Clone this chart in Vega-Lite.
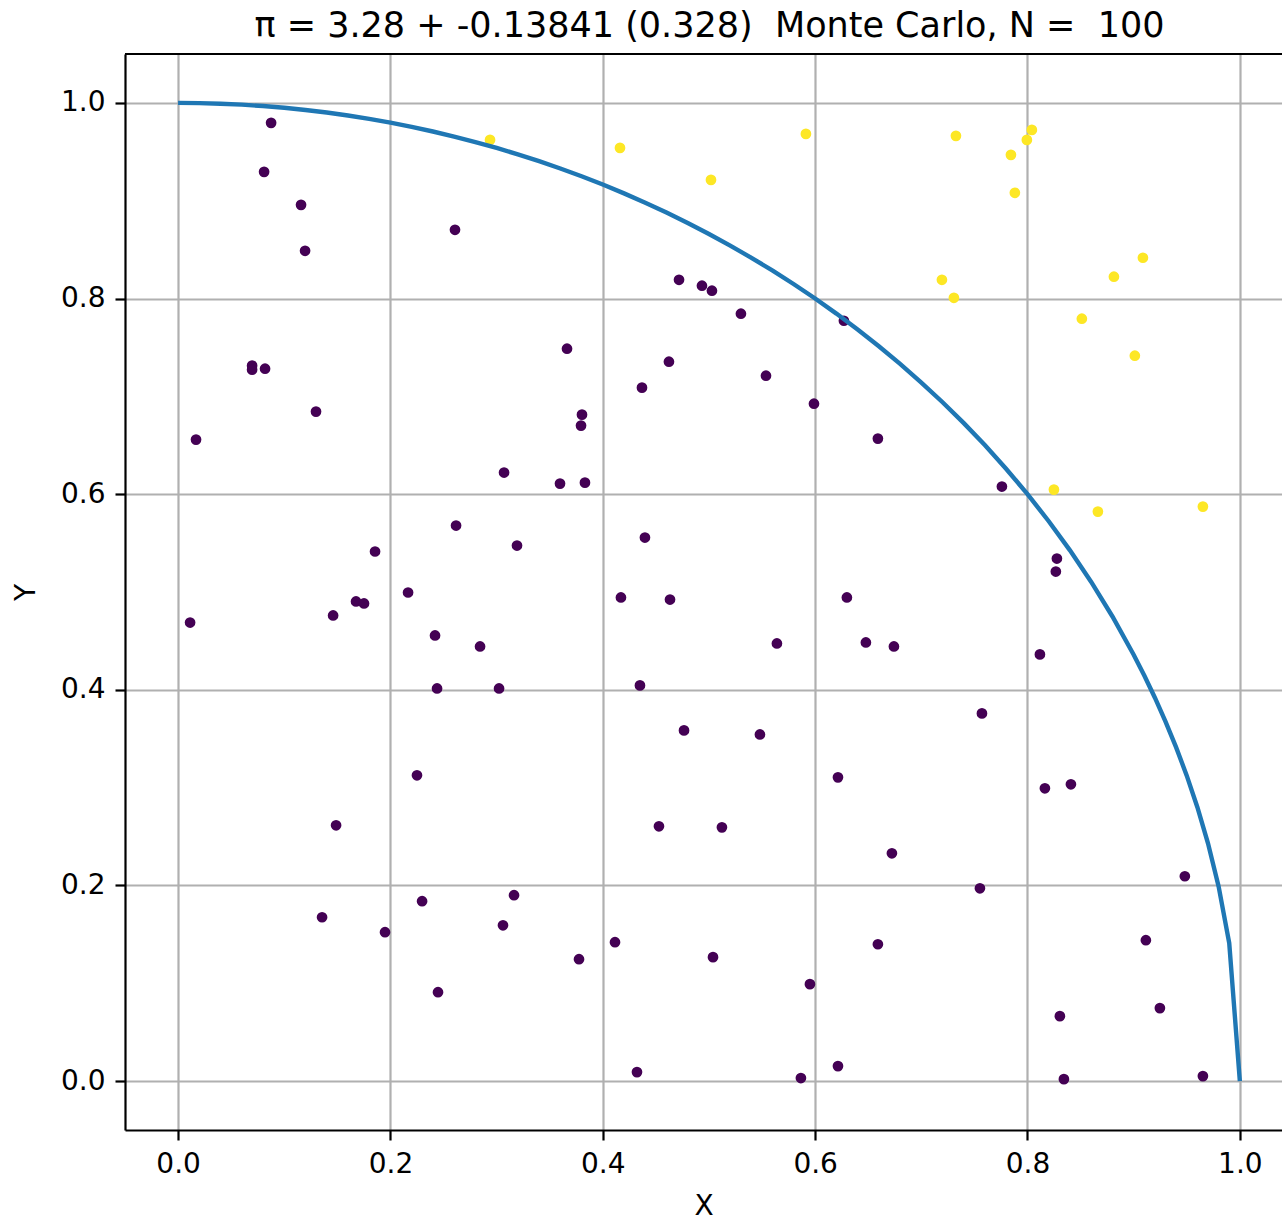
{
  "$schema": "https://vega.github.io/schema/vega-lite/v6.json",
  "autosize": {"type": "none"},
  "padding": {"left": 125, "top": 54, "right": 0, "bottom": 92},
  "width": 1157,
  "height": 1076,
  "background": "white",
  "config": {
    "view": {"stroke": null},
    "font": "DejaVu Sans",
    "axis": {
      "labelFont": "DejaVu Sans", "titleFont": "DejaVu Sans",
      "labelFontSize": 28, "titleFontSize": 28, "titleFontWeight": "normal",
      "labelColor": "black", "titleColor": "black",
      "domainColor": "black", "domainWidth": 2.2,
      "tickColor": "black", "tickWidth": 2.2, "tickSize": 10,
      "gridColor": "#b0b0b0", "gridWidth": 2.2,
      "labelPadding": 10
    }
  },
  "title": {
    "text": "π = 3.28 + -0.13841 (0.328)\u00a0\u00a0Monte Carlo, N =\u00a0\u00a0100",
    "font": "DejaVu Sans", "fontSize": 35, "fontWeight": "normal", "color": "black",
    "anchor": "middle", "frame": "group", "dx": 6, "offset": 9
  },
  "datasets": {
    "pts": [
      {"x": 0.2938, "y": 0.9622, "inside": "out"},
      {"x": 0.4162, "y": 0.954, "inside": "out"},
      {"x": 0.5019, "y": 0.9213, "inside": "out"},
      {"x": 0.5913, "y": 0.9683, "inside": "out"},
      {"x": 0.7326, "y": 0.9663, "inside": "out"},
      {"x": 0.7844, "y": 0.9469, "inside": "out"},
      {"x": 0.7994, "y": 0.9622, "inside": "out"},
      {"x": 0.8041, "y": 0.9724, "inside": "out"},
      {"x": 0.7881, "y": 0.9081, "inside": "out"},
      {"x": 0.7194, "y": 0.8192, "inside": "out"},
      {"x": 0.7307, "y": 0.8008, "inside": "out"},
      {"x": 0.8814, "y": 0.8223, "inside": "out"},
      {"x": 0.9087, "y": 0.8417, "inside": "out"},
      {"x": 0.8512, "y": 0.7794, "inside": "out"},
      {"x": 0.9011, "y": 0.7416, "inside": "out"},
      {"x": 0.8249, "y": 0.6047, "inside": "out"},
      {"x": 0.8663, "y": 0.5822, "inside": "out"},
      {"x": 0.9652, "y": 0.5873, "inside": "out"},
      {"x": 0.0876, "y": 0.9796, "inside": "in"},
      {"x": 0.081, "y": 0.9295, "inside": "in"},
      {"x": 0.1158, "y": 0.8958, "inside": "in"},
      {"x": 0.1196, "y": 0.8488, "inside": "in"},
      {"x": 0.2608, "y": 0.8703, "inside": "in"},
      {"x": 0.0697, "y": 0.7314, "inside": "in"},
      {"x": 0.0697, "y": 0.7273, "inside": "in"},
      {"x": 0.0819, "y": 0.7283, "inside": "in"},
      {"x": 0.1299, "y": 0.6844, "inside": "in"},
      {"x": 0.0169, "y": 0.6558, "inside": "in"},
      {"x": 0.0113, "y": 0.4688, "inside": "in"},
      {"x": 0.1855, "y": 0.5414, "inside": "in"},
      {"x": 0.146, "y": 0.476, "inside": "in"},
      {"x": 0.1676, "y": 0.4903, "inside": "in"},
      {"x": 0.1751, "y": 0.4883, "inside": "in"},
      {"x": 0.2166, "y": 0.4995, "inside": "in"},
      {"x": 0.242, "y": 0.4556, "inside": "in"},
      {"x": 0.2439, "y": 0.4014, "inside": "in"},
      {"x": 0.2618, "y": 0.5679, "inside": "in"},
      {"x": 0.2844, "y": 0.4443, "inside": "in"},
      {"x": 0.3023, "y": 0.4014, "inside": "in"},
      {"x": 0.307, "y": 0.6221, "inside": "in"},
      {"x": 0.3192, "y": 0.5475, "inside": "in"},
      {"x": 0.3597, "y": 0.6108, "inside": "in"},
      {"x": 0.3663, "y": 0.7487, "inside": "in"},
      {"x": 0.3804, "y": 0.6813, "inside": "in"},
      {"x": 0.3795, "y": 0.6701, "inside": "in"},
      {"x": 0.3832, "y": 0.6118, "inside": "in"},
      {"x": 0.4369, "y": 0.7089, "inside": "in"},
      {"x": 0.4397, "y": 0.5557, "inside": "in"},
      {"x": 0.4171, "y": 0.4944, "inside": "in"},
      {"x": 0.4623, "y": 0.7354, "inside": "in"},
      {"x": 0.4633, "y": 0.4923, "inside": "in"},
      {"x": 0.435, "y": 0.4045, "inside": "in"},
      {"x": 0.4765, "y": 0.3585, "inside": "in"},
      {"x": 0.4718, "y": 0.8192, "inside": "in"},
      {"x": 0.4934, "y": 0.8131, "inside": "in"},
      {"x": 0.5028, "y": 0.808, "inside": "in"},
      {"x": 0.5301, "y": 0.7845, "inside": "in"},
      {"x": 0.5537, "y": 0.7211, "inside": "in"},
      {"x": 0.5989, "y": 0.6925, "inside": "in"},
      {"x": 0.6271, "y": 0.7773, "inside": "in"},
      {"x": 0.6591, "y": 0.6568, "inside": "in"},
      {"x": 0.564, "y": 0.4474, "inside": "in"},
      {"x": 0.548, "y": 0.3544, "inside": "in"},
      {"x": 0.6299, "y": 0.4944, "inside": "in"},
      {"x": 0.6478, "y": 0.4484, "inside": "in"},
      {"x": 0.6742, "y": 0.4443, "inside": "in"},
      {"x": 0.7759, "y": 0.6078, "inside": "in"},
      {"x": 0.8277, "y": 0.5342, "inside": "in"},
      {"x": 0.8267, "y": 0.5209, "inside": "in"},
      {"x": 0.8117, "y": 0.4362, "inside": "in"},
      {"x": 0.7571, "y": 0.3759, "inside": "in"},
      {"x": 0.1488, "y": 0.2615, "inside": "in"},
      {"x": 0.1356, "y": 0.1675, "inside": "in"},
      {"x": 0.1949, "y": 0.1522, "inside": "in"},
      {"x": 0.225, "y": 0.3126, "inside": "in"},
      {"x": 0.2298, "y": 0.1839, "inside": "in"},
      {"x": 0.2448, "y": 0.0909, "inside": "in"},
      {"x": 0.3164, "y": 0.19, "inside": "in"},
      {"x": 0.306, "y": 0.1593, "inside": "in"},
      {"x": 0.3776, "y": 0.1246, "inside": "in"},
      {"x": 0.4115, "y": 0.142, "inside": "in"},
      {"x": 0.4322, "y": 0.0092, "inside": "in"},
      {"x": 0.4529, "y": 0.2605, "inside": "in"},
      {"x": 0.5122, "y": 0.2594, "inside": "in"},
      {"x": 0.5038, "y": 0.1267, "inside": "in"},
      {"x": 0.5951, "y": 0.0991, "inside": "in"},
      {"x": 0.6215, "y": 0.3105, "inside": "in"},
      {"x": 0.5866, "y": 0.0031, "inside": "in"},
      {"x": 0.6215, "y": 0.0153, "inside": "in"},
      {"x": 0.6591, "y": 0.1399, "inside": "in"},
      {"x": 0.6723, "y": 0.2329, "inside": "in"},
      {"x": 0.7552, "y": 0.1971, "inside": "in"},
      {"x": 0.8164, "y": 0.2993, "inside": "in"},
      {"x": 0.8409, "y": 0.3034, "inside": "in"},
      {"x": 0.8305, "y": 0.0664, "inside": "in"},
      {"x": 0.8343, "y": 0.002, "inside": "in"},
      {"x": 0.9482, "y": 0.2094, "inside": "in"},
      {"x": 0.9115, "y": 0.144, "inside": "in"},
      {"x": 0.9247, "y": 0.0746, "inside": "in"},
      {"x": 0.9652, "y": 0.0051, "inside": "in"}
    ],
    "arc": [
      {"x": 0, "y": 1},
      {"x": 0.02, "y": 0.9998},
      {"x": 0.04, "y": 0.9992},
      {"x": 0.06, "y": 0.9982},
      {"x": 0.08, "y": 0.99679},
      {"x": 0.1, "y": 0.99499},
      {"x": 0.12, "y": 0.99277},
      {"x": 0.14, "y": 0.99015},
      {"x": 0.16, "y": 0.98712},
      {"x": 0.18, "y": 0.98367},
      {"x": 0.2, "y": 0.9798},
      {"x": 0.22, "y": 0.9755},
      {"x": 0.24, "y": 0.97077},
      {"x": 0.26, "y": 0.96561},
      {"x": 0.28, "y": 0.96},
      {"x": 0.3, "y": 0.95394},
      {"x": 0.32, "y": 0.94742},
      {"x": 0.34, "y": 0.94043},
      {"x": 0.36, "y": 0.93295},
      {"x": 0.38, "y": 0.92499},
      {"x": 0.4, "y": 0.91652},
      {"x": 0.42, "y": 0.90752},
      {"x": 0.44, "y": 0.898},
      {"x": 0.46, "y": 0.88792},
      {"x": 0.48, "y": 0.87727},
      {"x": 0.5, "y": 0.86603},
      {"x": 0.52, "y": 0.85417},
      {"x": 0.54, "y": 0.84166},
      {"x": 0.56, "y": 0.82849},
      {"x": 0.58, "y": 0.81462},
      {"x": 0.6, "y": 0.8},
      {"x": 0.62, "y": 0.7846},
      {"x": 0.64, "y": 0.76837},
      {"x": 0.66, "y": 0.75127},
      {"x": 0.68, "y": 0.73321},
      {"x": 0.7, "y": 0.71414},
      {"x": 0.72, "y": 0.69397},
      {"x": 0.74, "y": 0.67261},
      {"x": 0.76, "y": 0.64992},
      {"x": 0.78, "y": 0.62578},
      {"x": 0.8, "y": 0.6},
      {"x": 0.82, "y": 0.57236},
      {"x": 0.84, "y": 0.54259},
      {"x": 0.86, "y": 0.51029},
      {"x": 0.88, "y": 0.47497},
      {"x": 0.9, "y": 0.43589},
      {"x": 0.91, "y": 0.41461},
      {"x": 0.92, "y": 0.39192},
      {"x": 0.93, "y": 0.36756},
      {"x": 0.94, "y": 0.34117},
      {"x": 0.95, "y": 0.31225},
      {"x": 0.96, "y": 0.28},
      {"x": 0.97, "y": 0.2431},
      {"x": 0.98, "y": 0.199},
      {"x": 0.99, "y": 0.14107},
      {"x": 1.0, "y": 0}
    ]
  },
  "layer": [
    {
      "data": {"name": "pts"},
      "mark": {"type": "point", "filled": true, "opacity": 1, "size": 115},
      "encoding": {
        "x": {
          "field": "x", "type": "quantitative",
          "scale": {"domain": [-0.05, 1.0397], "nice": false, "zero": false},
          "axis": {"values": [0, 0.2, 0.4, 0.6, 0.8, 1.0], "format": ".1f", "title": "X", "titlePadding": 14}
        },
        "y": {
          "field": "y", "type": "quantitative",
          "scale": {"domain": [-0.05, 1.05], "nice": false, "zero": false},
          "axis": {"values": [0, 0.2, 0.4, 0.6, 0.8, 1.0], "format": ".1f", "title": "Y", "titlePadding": 20}
        },
        "color": {
          "field": "inside", "type": "nominal",
          "scale": {"domain": ["in", "out"], "range": ["#440154", "#fde725"]},
          "legend": null
        }
      }
    },
    {
      "data": {"name": "arc"},
      "mark": {"type": "line", "color": "#1f77b4", "strokeWidth": 4.4},
      "encoding": {
        "x": {"field": "x", "type": "quantitative", "sort": null},
        "y": {"field": "y", "type": "quantitative"},
        "order": {"field": "x", "type": "quantitative"}
      }
    },
    {
      "data": {"values": [{}]},
      "mark": {"type": "rule", "color": "black", "strokeWidth": 2.2},
      "encoding": {"y": {"datum": 1.05}}
    }
  ]
}
